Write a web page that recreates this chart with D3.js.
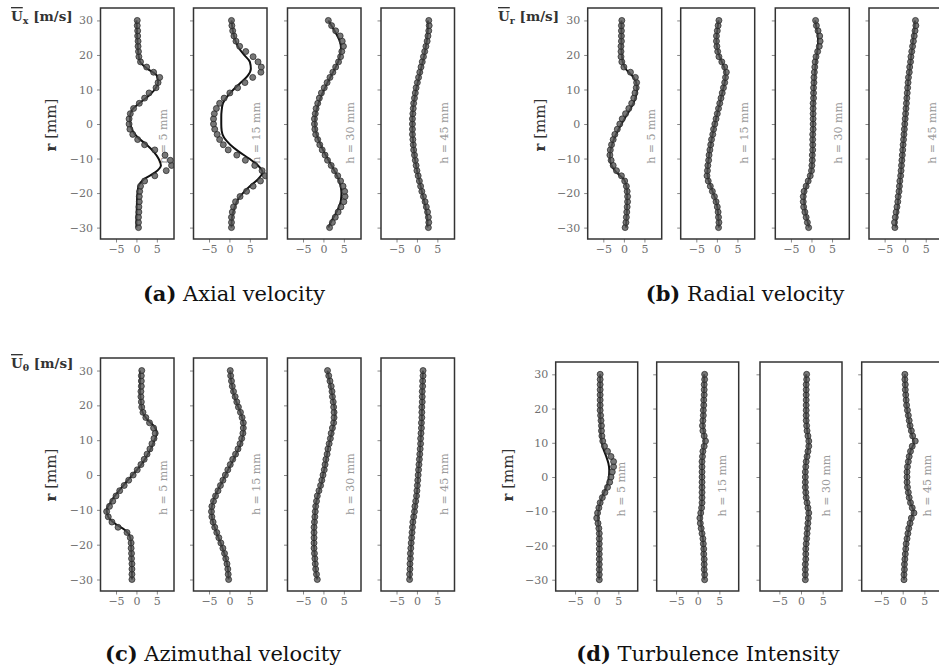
<!DOCTYPE html>
<html><head><meta charset="utf-8">
<script src="https://cdn.jsdelivr.net/npm/d3@7"></script>
<style>body{margin:0;background:#fff}svg{display:block}</style>
</head><body>
<svg id="chart" width="939" height="669"></svg>
<script>
// ---------- data ----------
const rExp = [-30,-28.5,-27,-25.5,-24,-22.5,-21,-19.5,-18,-16.5,-15,-13.5,-12,-10.5,-9,-7.5,-6,-4.5,-3,-1.5,0,1.5,3,4.5,6,7.5,9,10.5,12,13.5,15,16.5,18,19.5,21,22.5,24,25.5,27,28.5,30];
const rModel = [-30,-28,-26,-24,-22,-20,-18,-16,-14,-12,-10,-8,-6,-4,-2,0,2,4,6,8,10,12,14,16,18,20,22,24,26,28,30];
const xTicks = [-5, 0, 5];
const yTicks = [-30, -20, -10, 0, 10, 20, 30];
const stationLabels = ["h = 5 mm", "h = 15 mm", "h = 30 mm", "h = 45 mm"];
const captionKeys = ["(a)", "(b)", "(c)", "(d)"];
const captionTexts = ["Axial velocity", "Radial velocity", "Azimuthal velocity", "Turbulence Intensity"];
const quantitySubs = ["x", "r", "θ", null];

const axialExp = [
 [0.5,0.5,0.5,0.6,0.6,0.7,0.7,0.8,1.0,2.0,4.5,7.3,8.6,8.3,7.0,4.5,2.0,0.3,-0.9,-1.6,-1.8,-1.8,-1.5,-0.7,0.7,2.0,3.1,4.8,5.3,5.7,4.2,2.5,1.0,0.6,0.5,0.4,0.4,0.3,0.3,0.2,0.2],
 [0.5,0.5,0.5,0.7,1.0,1.5,2.6,4.2,5.8,7.6,8.8,8.0,6.2,3.9,1.8,-0.3,-1.5,-2.4,-3.0,-3.6,-3.9,-3.9,-3.7,-3.2,-2.4,-1.3,0.1,2.0,3.8,5.7,7.7,7.8,7.0,5.8,4.0,2.5,1.6,1.1,0.8,0.6,0.5],
 [1.5,2.2,2.9,3.6,4.3,5.0,5.3,5.2,4.8,4.2,3.5,2.7,1.9,1.0,0.4,-0.3,-0.9,-1.4,-1.9,-2.1,-2.2,-2.2,-2.0,-1.8,-1.4,-1.0,-0.5,0.2,0.9,1.6,2.3,3.0,3.7,4.2,4.5,4.9,4.6,4.1,3.0,2.0,1.2],
 [2.8,2.9,2.8,2.6,2.3,2.0,1.6,1.2,0.9,0.6,0.3,0.0,-0.2,-0.4,-0.6,-0.8,-0.9,-1.0,-1.1,-1.1,-1.1,-1.1,-1.0,-0.9,-0.8,-0.6,-0.4,-0.2,0.1,0.4,0.7,1.0,1.3,1.6,1.9,2.2,2.5,2.7,2.9,3.0,2.9]
];
const axialModel = [
 [0,0,0.05,0.1,0.15,0.25,0.5,1.8,4.6,6.0,5.4,4.2,2.5,0.4,-0.9,-1.5,-1.6,-1.1,0.7,2.8,4.5,5.3,5.0,2.7,0.9,0.5,0.35,0.25,0.15,0.1,0],
 [0.5,0.55,0.8,1.3,2.0,3.3,5.0,7.0,8.1,7.0,4.8,2.3,0.2,-1.3,-1.9,-2.0,-2.0,-1.9,-1.6,-0.5,1.0,2.8,4.5,5.25,5.0,3.6,2.3,1.5,1.0,0.7,0.5],
 [1.2,2.0,3.0,3.8,4.3,4.4,4.2,3.7,2.9,2.0,1.0,0.1,-0.7,-1.4,-1.9,-2.1,-2.0,-1.7,-1.2,-0.6,0.2,1.0,1.9,2.8,3.6,4.1,4.3,4.0,3.2,2.2,1.2],
 [2.6,2.6,2.4,2.1,1.7,1.3,0.9,0.5,0.1,-0.2,-0.5,-0.7,-0.9,-1.0,-1.1,-1.1,-1.1,-1.0,-0.8,-0.5,-0.2,0.2,0.6,1.0,1.4,1.8,2.1,2.4,2.6,2.7,2.7]
];
const radialExp = [
 [0.3,0.5,0.6,0.7,0.8,0.9,0.9,0.8,0.6,0.2,-0.6,-1.8,-2.6,-3.1,-3.4,-3.3,-3.0,-2.6,-2.2,-1.6,-1.0,-0.4,0.4,1.2,1.9,2.4,2.7,3.0,3.1,2.8,1.6,0.0,-0.5,-0.7,-0.7,-0.7,-0.6,-0.6,-0.6,-0.6,-0.5],
 [0.4,0.5,0.4,0.3,0.1,-0.2,-0.6,-1.1,-1.6,-2.1,-2.4,-2.3,-2.2,-2.0,-1.9,-1.7,-1.5,-1.3,-1.0,-0.8,-0.5,-0.2,0.1,0.4,0.7,1.0,1.3,1.6,1.9,2.1,2.3,1.9,1.2,0.5,0.2,0.0,-0.1,-0.1,0.1,0.3,0.5],
 [-0.7,-1.0,-1.3,-1.6,-1.9,-2.0,-2.0,-1.8,-1.3,-0.8,-0.3,0.0,0.1,0.2,0.2,0.3,0.3,0.3,0.3,0.4,0.4,0.4,0.4,0.4,0.4,0.5,0.5,0.5,0.6,0.6,0.7,0.8,0.9,1.1,1.5,1.9,2.1,2.0,1.6,1.2,1.0],
 [-2.5,-2.6,-2.4,-2.2,-2.0,-1.8,-1.7,-1.5,-1.4,-1.3,-1.1,-1.0,-0.9,-0.8,-0.7,-0.6,-0.5,-0.4,-0.3,-0.2,-0.1,0.0,0.1,0.2,0.3,0.4,0.5,0.6,0.7,0.8,1.0,1.1,1.3,1.4,1.6,1.8,2.0,2.2,2.4,2.6,2.5]
];
const radialModel = [
 [0.5,0.6,0.7,0.75,0.8,0.8,0.6,0.0,-1.8,-3.0,-3.4,-3.3,-2.9,-2.3,-1.5,-0.6,0.4,1.4,2.3,2.9,3.2,3.0,2.0,0.4,-0.3,-0.5,-0.6,-0.6,-0.6,-0.6,-0.6],
 [0.5,0.4,0.3,0.1,-0.3,-0.9,-1.5,-2.1,-2.3,-2.2,-2.0,-1.8,-1.5,-1.2,-0.9,-0.5,-0.1,0.3,0.7,1.1,1.5,1.9,2.1,1.9,1.2,0.5,0.1,-0.1,0.0,0.2,0.4],
 [-0.6,-1.0,-1.4,-1.7,-1.8,-1.7,-1.2,-0.6,-0.1,0.1,0.2,0.3,0.3,0.3,0.4,0.4,0.4,0.4,0.5,0.5,0.6,0.7,0.8,0.9,1.1,1.3,1.5,1.6,1.5,1.2,0.9],
 [-2.3,-2.2,-2.0,-1.8,-1.7,-1.5,-1.3,-1.2,-1.0,-0.9,-0.7,-0.6,-0.5,-0.3,-0.2,-0.1,0.1,0.2,0.3,0.4,0.6,0.7,0.9,1.1,1.3,1.5,1.7,1.9,2.1,2.3,2.4]
];
const azimExp = [
 [-1.1,-1.1,-1.1,-1.1,-1.2,-1.2,-1.3,-1.3,-1.5,-2.3,-4.5,-6.0,-6.9,-7.3,-6.6,-5.8,-5.0,-4.1,-3.0,-1.9,-0.8,0.2,1.1,1.9,2.6,3.3,3.8,4.3,4.6,4.2,3.2,2.3,1.6,1.3,1.2,1.1,1.1,1.2,1.2,1.2,1.3],
 [-0.2,-0.3,-0.4,-0.6,-0.9,-1.2,-1.6,-2.1,-2.6,-3.1,-3.6,-4.0,-4.3,-4.4,-4.3,-3.9,-3.4,-2.8,-2.2,-1.6,-1.0,-0.4,0.2,0.8,1.5,2.1,2.6,3.0,3.3,3.4,3.4,3.1,2.7,2.2,1.8,1.4,1.0,0.7,0.5,0.3,0.2],
 [-1.5,-1.7,-1.9,-2.0,-2.1,-2.2,-2.3,-2.3,-2.3,-2.3,-2.3,-2.2,-2.1,-2.0,-1.9,-1.7,-1.5,-1.1,-0.7,-0.4,-0.1,0.2,0.4,0.6,0.9,1.1,1.4,1.7,1.9,2.2,2.5,2.6,2.6,2.5,2.4,2.2,2.1,1.9,1.6,1.3,1.0],
 [-1.8,-1.8,-1.7,-1.7,-1.6,-1.6,-1.5,-1.4,-1.3,-1.2,-1.1,-1.0,-0.8,-0.6,-0.5,-0.3,-0.1,0.0,0.1,0.2,0.3,0.4,0.5,0.6,0.7,0.8,0.9,0.9,1.0,1.1,1.1,1.2,1.2,1.2,1.3,1.3,1.3,1.4,1.4,1.5,1.5]
];
const azimModel = [
 [-1.1,-1.1,-1.15,-1.2,-1.25,-1.3,-1.5,-2.6,-5.2,-6.9,-7.3,-6.4,-5.3,-3.9,-2.5,-1.0,0.5,1.8,2.8,3.7,4.4,5.0,4.3,2.6,1.5,1.2,1.0,0.9,0.9,0.9,0.9],
 [-0.2,-0.3,-0.5,-0.9,-1.4,-2.0,-2.7,-3.3,-3.9,-4.3,-4.4,-4.1,-3.5,-2.7,-1.8,-1.0,-0.1,0.8,1.6,2.4,3.0,3.4,3.5,3.2,2.7,2.0,1.4,0.9,0.6,0.3,0.2],
 [-1.5,-1.8,-2.0,-2.1,-2.2,-2.3,-2.3,-2.3,-2.2,-2.1,-2.0,-1.8,-1.4,-0.9,-0.4,-0.1,0.3,0.6,0.9,1.2,1.6,2.0,2.4,2.7,2.8,2.6,2.3,2.0,1.7,1.3,1.0],
 [-1.7,-1.7,-1.6,-1.6,-1.5,-1.4,-1.3,-1.2,-1.0,-0.8,-0.6,-0.3,-0.1,0.1,0.2,0.3,0.4,0.6,0.7,0.8,0.9,1.0,1.1,1.2,1.2,1.3,1.3,1.3,1.4,1.4,1.5]
];
const turbExp = [
 [0.6,0.6,0.6,0.6,0.6,0.6,0.6,0.6,0.6,0.6,0.5,0.3,0.0,0.2,0.5,0.8,1.3,1.9,2.5,3.0,3.3,3.6,3.9,3.9,3.3,2.5,1.8,1.4,1.2,1.1,1.1,1.0,0.9,0.8,0.8,0.8,0.8,0.8,0.8,0.8,0.8],
 [1.6,1.6,1.5,1.5,1.5,1.4,1.4,1.3,1.2,1.0,0.8,0.6,0.5,0.7,0.9,1.0,1.0,1.0,1.0,1.0,1.0,1.0,1.0,1.0,1.1,1.2,1.5,1.8,1.5,1.2,1.1,1.2,1.3,1.3,1.4,1.4,1.5,1.5,1.5,1.6,1.6],
 [1.0,1.0,1.0,1.0,1.1,1.1,1.1,1.2,1.3,1.4,1.5,1.6,1.7,1.8,1.6,1.4,1.2,1.1,1.0,1.0,1.0,1.0,1.1,1.2,1.4,1.6,1.8,1.8,1.6,1.4,1.3,1.2,1.2,1.2,1.2,1.2,1.2,1.2,1.2,1.3,1.3],
 [0.3,0.3,0.4,0.4,0.5,0.6,0.7,0.8,1.0,1.2,1.4,1.7,2.0,2.6,2.2,1.8,1.5,1.3,1.1,1.0,1.0,1.0,1.1,1.3,1.5,1.8,2.2,2.9,2.3,2.0,1.7,1.5,1.3,1.1,0.9,0.8,0.7,0.6,0.6,0.5,0.5]
];
const turbModel = [
 [0.6,0.6,0.6,0.6,0.6,0.6,0.6,0.5,0.4,0.3,0.4,0.7,1.2,1.9,2.5,2.8,2.9,2.7,2.2,1.6,1.2,1.0,0.9,0.9,0.8,0.8,0.8,0.8,0.8,0.8,0.8],
 [1.5,1.5,1.5,1.4,1.4,1.3,1.2,1.0,0.8,0.7,0.8,0.9,1.0,1.0,1.0,1.0,1.0,1.0,1.1,1.3,1.5,1.5,1.3,1.2,1.3,1.3,1.4,1.4,1.5,1.5,1.5],
 [1.0,1.0,1.0,1.1,1.1,1.2,1.3,1.4,1.5,1.7,1.7,1.5,1.2,1.1,1.0,1.0,1.0,1.1,1.3,1.6,1.8,1.6,1.4,1.3,1.2,1.2,1.2,1.2,1.2,1.2,1.2],
 [0.3,0.35,0.4,0.5,0.6,0.8,1.0,1.3,1.6,2.0,2.5,1.9,1.5,1.2,1.0,1.0,1.0,1.2,1.5,1.9,2.6,2.2,1.8,1.5,1.2,1.0,0.8,0.7,0.6,0.5,0.5]
];

// ---------- layout ----------
const panels = [
  {exp: axialExp,  model: axialModel,  lefts: [100.5,193.5,287.5,381], w: 73.5, top: 8,   bottom: 239, xd: [-8.8, 9.2],  annX: 7.5, rLab: [56, 125],  qLab: [11, 21],   cap: [234, 301]},
  {exp: radialExp, model: radialModel, lefts: [587.7,680.7,775.3,869], w: 74,   top: 8,   bottom: 239, xd: [-8.8, 9.2],  annX: 7.5, rLab: [545, 125], qLab: [498, 21],  cap: [745, 301]},
  {exp: azimExp,   model: azimModel,   lefts: [100.5,193.5,287.5,381], w: 73.5, top: 358, bottom: 591, xd: [-8.8, 9.2],  annX: 7.5, rLab: [56, 475],  qLab: [11, 368],  cap: [223, 661]},
  {exp: turbExp,   model: turbModel,   lefts: [555.7,656.7,760,861.7], w: 82,   top: 362, bottom: 591, xd: [-9.47, 9.47], annX: 6.6, rLab: [513, 475], qLab: null,      cap: [708, 661]}
];

const svg = d3.select('#chart');
svg.append('rect').attr('width', 939).attr('height', 669).attr('fill', '#fff');
const defs = svg.append('defs');
const FONT = "'DejaVu Serif', 'Liberation Serif', serif";

panels.forEach((p, pi) => {
  const y = d3.scaleLinear().domain([-33.3, 33.6]).range([p.bottom, p.top]);
  p.lefts.forEach((left, si) => {
    const x = d3.scaleLinear().domain(p.xd).range([left, left + p.w]);
    const g = svg.append('g');
    const cid = `clip-${pi}-${si}`;
    defs.append('clipPath').attr('id', cid).append('rect')
      .attr('x', left).attr('y', p.top).attr('width', p.w).attr('height', p.bottom - p.top);

    // axes
    const yAx = d3.axisLeft(y).tickValues(yTicks).tickSize(3.5).tickSizeOuter(0).tickPadding(4);
    if (si > 0) yAx.tickFormat('');
    const ya = g.append('g').attr('transform', `translate(${left},0)`).call(yAx);
    const xAx = d3.axisBottom(x).tickValues(xTicks).tickSize(3.5).tickSizeOuter(0).tickPadding(3);
    const xa = g.append('g').attr('transform', `translate(0,${p.bottom})`).call(xAx);
    [ya, xa].forEach(a => {
      a.select('.domain').remove();
      a.selectAll('line').attr('stroke', '#888').attr('stroke-width', 1);
      a.selectAll('text').attr('fill', '#707070').style('font-family', FONT).style('font-size', '11px');
    });

    // station annotation
    const ax = x(p.annX), ay = y(-11.5);
    g.append('text').attr('x', ax).attr('y', ay)
      .attr('transform', `rotate(-90,${ax},${ay})`)
      .attr('text-anchor', 'start').attr('fill', '#9a9a9a')
      .style('font-family', FONT).style('font-size', '11px')
      .text(stationLabels[si]);

    // data
    const dg = g.append('g').attr('clip-path', `url(#${cid})`);
    const line = d3.line().x(d => x(d[1])).y(d => y(d[0])).curve(d3.curveMonotoneY);
    dg.append('path').datum(rModel.map((r, i) => [r, p.model[si][i]]))
      .attr('d', line).attr('fill', 'none').attr('stroke', '#111').attr('stroke-width', 2);
    dg.selectAll('circle').data(rExp.map((r, i) => [r, p.exp[si][i]])).join('circle')
      .attr('cx', d => x(d[1])).attr('cy', d => y(d[0])).attr('r', 3.0)
      .attr('fill', '#555').attr('fill-opacity', 0.8)
      .attr('stroke', '#222').attr('stroke-width', 0.7);

    // frame
    g.append('rect').attr('x', left).attr('y', p.top).attr('width', p.w).attr('height', p.bottom - p.top)
      .attr('fill', 'none').attr('stroke', '#333').attr('stroke-width', 1.5);
  });

  // r [mm] label
  const rl = svg.append('text')
    .attr('transform', `translate(${p.rLab[0]},${p.rLab[1]}) rotate(-90)`)
    .attr('text-anchor', 'middle').attr('fill', '#333')
    .style('font-family', FONT).style('font-size', '15px');
  rl.append('tspan').style('font-weight', 'bold').text('r');
  rl.append('tspan').text(' [mm]');

  // quantity label
  if (p.qLab) {
    const ql = svg.append('text').attr('x', p.qLab[0]).attr('y', p.qLab[1])
      .attr('fill', '#333').style('font-family', FONT).style('font-size', '13.5px').style('font-weight', 'bold');
    ql.append('tspan').style('text-decoration', 'overline').text('U');
    ql.append('tspan').attr('dy', 3).style('font-size', '9.5px').text(quantitySubs[pi]);
    ql.append('tspan').attr('dy', -3).text(' [m/s]');
  }

  // caption
  const cap = svg.append('text').attr('x', p.cap[0]).attr('y', p.cap[1])
    .attr('text-anchor', 'middle').attr('fill', '#111')
    .style('font-family', FONT).style('font-size', '21px');
  cap.append('tspan').style('font-weight', 'bold').text(captionKeys[pi]);
  cap.append('tspan').text(' ' + captionTexts[pi]);
});
</script>
</body></html>
